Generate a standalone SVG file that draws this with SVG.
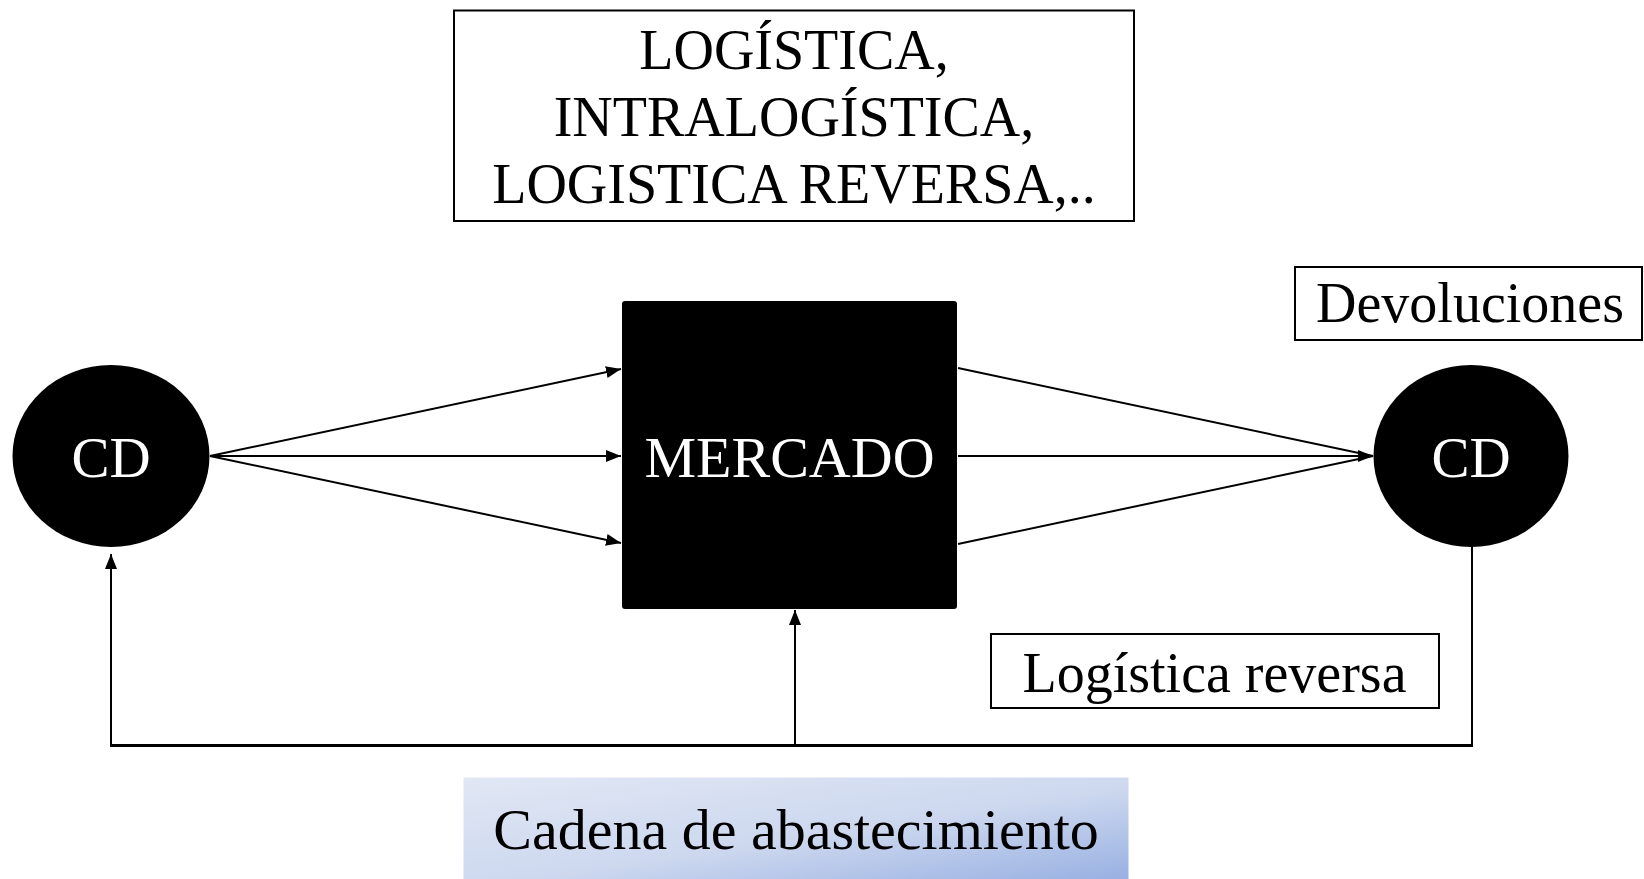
<svg xmlns="http://www.w3.org/2000/svg" width="1644" height="879" viewBox="0 0 1644 879">
<defs>
<style>
.t{font-family:"Liberation Serif","Times New Roman",serif;text-anchor:middle}
.w{fill:#fff}
.k{fill:#000}
.box{fill:#fff;stroke:#000;stroke-width:2}
.ln{stroke:#000;stroke-width:2;fill:none}
.thick{stroke:#000;stroke-width:3;fill:none}
</style>
<marker id="ah" viewBox="0 0 15 12" refX="15" refY="6" markerWidth="15" markerHeight="12" markerUnits="userSpaceOnUse" orient="auto">
<path d="M0,0 L15,6 L0,12 Z" fill="#000"/>
</marker>
<linearGradient id="gr" x1="0" y1="0" x2="1" y2="1">
<stop offset="0" stop-color="#e1e7f4"/>
<stop offset="0.55" stop-color="#cdd8ef"/>
<stop offset="1" stop-color="#98b0e2"/>
</linearGradient>
</defs>
<rect width="1644" height="879" fill="#fff"/>
<g id="connectors">
<line class="ln" x1="210" y1="456" x2="621" y2="369" marker-end="url(#ah)"/>
<line class="ln" x1="210" y1="456" x2="621" y2="456" marker-end="url(#ah)"/>
<line class="ln" x1="210" y1="456" x2="621" y2="543" marker-end="url(#ah)"/>
<line class="ln" x1="958" y1="368" x2="1373" y2="456"/>
<line class="ln" x1="958" y1="456" x2="1373" y2="456" marker-end="url(#ah)"/>
<line class="ln" x1="958" y1="544" x2="1373" y2="456"/>
<line class="ln" x1="1472" y1="546" x2="1472" y2="746"/>
<line class="thick" x1="110" y1="745.5" x2="1473" y2="745.5"/>
<line class="ln" x1="111" y1="745" x2="111" y2="554" marker-end="url(#ah)"/>
<line class="ln" x1="795" y1="745" x2="795" y2="610" marker-end="url(#ah)"/>
</g>
<g id="top-box">
<rect class="box" x="454" y="10.5" width="680" height="210.5"/>
<text class="t k" x="794" y="69" font-size="56">LOGÍSTICA,</text>
<text class="t k" x="794" y="136" font-size="56">INTRALOGÍSTICA,</text>
<text class="t k" x="794" y="203" font-size="56">LOGISTICA REVERSA,..</text>
</g>
<g id="cd-left">
<ellipse cx="111" cy="456" rx="98.5" ry="91" fill="#000"/>
<text class="t w" x="111" y="477" font-size="57">CD</text>
</g>
<g id="mercado">
<rect x="622" y="301" width="335" height="308" rx="3" fill="#000"/>
<text class="t w" x="789.5" y="477" font-size="58">MERCADO</text>
</g>
<g id="cd-right">
<ellipse cx="1471" cy="456" rx="97.5" ry="91" fill="#000"/>
<text class="t w" x="1471" y="477" font-size="57">CD</text>
</g>
<g id="devoluciones">
<rect class="box" x="1295" y="267" width="347" height="73"/>
<text class="t k" x="1470" y="322" font-size="56">Devoluciones</text>
</g>
<g id="logistica-reversa">
<rect class="box" x="991" y="634" width="448" height="74"/>
<text class="t k" x="1214.5" y="692" font-size="56">Logística reversa</text>
</g>
<g id="cadena">
<rect x="463.5" y="777.5" width="665" height="102" fill="url(#gr)"/>
<text class="t k" x="796" y="849" font-size="58">Cadena de abastecimiento</text>
</g>
</svg>
